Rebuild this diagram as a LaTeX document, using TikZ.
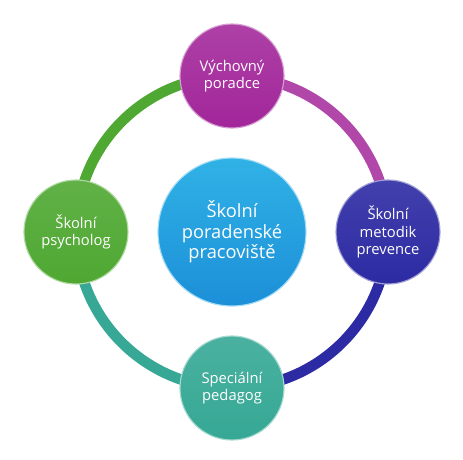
\documentclass[tikz,border=0pt]{standalone}
\usepackage{fontspec}
\setmainfont{Open Sans}
\usepackage{xcolor}
\usepackage{tikz}
\usetikzlibrary{backgrounds}
\definecolor{poradnaPurple}{HTML}{A2269A}
\definecolor{poradnaBlue}{HTML}{2D2BA3}
\definecolor{poradnaGreen}{HTML}{4FA832}
\definecolor{poradnaTeal}{HTML}{36A895}
\definecolor{poradnaSky}{HTML}{1C8FD8}
\definecolor{poradnaCyan}{HTML}{30B2E6}
\tikzset{
    poradna/member/.style={
        circle, minimum size=2.6cm, inner sep=0pt,
        align=center, font=\fontsize{10.5}{12.5}\selectfont, text=white,
        line width=0.8pt
    },
    poradna/hub/.style={
        poradna/member, minimum size=3.7cm,
        font=\fontsize{13}{14.5}\selectfont
    },
    poradna/ring/.style={
        line width=7.5pt
    }
}

\begin{document}
\begin{tikzpicture}
    \useasboundingbox (-5.8,-5.675) rectangle (5.775,5.8);

    \node[poradna/hub, top color=poradnaCyan,
        bottom color=poradnaSky, draw=poradnaCyan!45!white]
        (pracoviste) at (0,0) {Školní\\poradenské\\pracoviště};
    \node[poradna/member, top color=poradnaPurple!88!white,
        bottom color=poradnaPurple, draw=poradnaPurple!45!white]
        (vychovny) at (0,3.9) {Výchovný\\poradce};
    \node[poradna/member, top color=poradnaBlue!90!white,
        bottom color=poradnaBlue, draw=poradnaBlue!45!white]
        (metodik) at (3.9,0) {Školní\\metodik\\prevence};
    \node[poradna/member, top color=poradnaTeal!90!white,
        bottom color=poradnaTeal, draw=poradnaTeal!45!white]
        (specialni) at (0,-3.9) {Speciální\\pedagog};
    \node[poradna/member, top color=poradnaGreen!90!white,
        bottom color=poradnaGreen, draw=poradnaGreen!45!white]
        (psycholog) at (-3.9,0) {Školní\\psycholog};

    % ring behind the members
    \begin{scope}[on background layer]
        \draw[poradna/ring, draw=poradnaPurple!85!white]
            (vychovny.center) to[out=0,in=90] (metodik.center);
        \draw[poradna/ring, draw=poradnaBlue]
            (metodik.center) to[out=-90,in=0] (specialni.center);
        \draw[poradna/ring, draw=poradnaTeal]
            (specialni.center) to[out=180,in=-90] (psycholog.center);
        \draw[poradna/ring, draw=poradnaGreen]
            (psycholog.center) to[out=90,in=180] (vychovny.center);
    \end{scope}
\end{tikzpicture}
\end{document}
